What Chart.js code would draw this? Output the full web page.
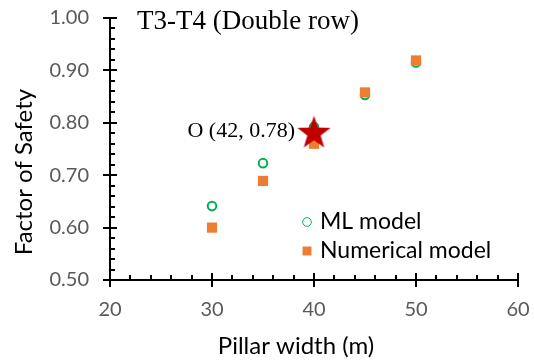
<!DOCTYPE html>
<html>
<head>
<meta charset="utf-8">
<script src="https://cdn.jsdelivr.net/npm/chart.js@4.4.0/dist/chart.umd.min.js"></script>
<style>
  html, body { margin: 0; padding: 0; background: #fff; }
  #wrap { width: 534px; height: 362px; }
</style>
</head>
<body>
<div id="wrap"><canvas id="grafico"></canvas></div>
<script>
// Dados
const larguras = [30, 35, 40, 45, 50];
const modeloML = [0.641, 0.723, 0.792, 0.853, 0.915];
const modeloNumerico = [0.600, 0.689, 0.760, 0.858, 0.919];
const pontoOtimoX = [40];
const pontoOtimoY = [0.78];
const rotuloOtimo = 'O (42, 0.78)';
const titulo = 'T3-T4 (Double row)';
const tituloX = 'Pillar width (m)';
const tituloY = 'Factor of Safety';

// Estrela preenchida usada como pointStyle
function criarEstrela(raio, cor) {
    const c = document.createElement('canvas');
    const lado = Math.ceil(raio * 2 + 2);
    c.width = lado; c.height = lado;
    const g = c.getContext('2d');
    const cx = lado / 2, cy = lado / 2;
    g.beginPath();
    for (let i = 0; i < 10; i++) {
        const r = i % 2 === 0 ? raio : raio * 0.4;
        const a = -Math.PI / 2 + i * Math.PI / 5;
        g.lineTo(cx + r * Math.cos(a), cy + r * Math.sin(a));
    }
    g.closePath();
    g.fillStyle = cor;
    g.fill();
    return c;
}

// Eixos com marcas maiores e menores (estilo Excel)
const eixosPlugin = {
    id: 'eixos',
    beforeDatasetsDraw(chart) {
        const { ctx, chartArea, scales } = chart;
        const x = scales.x, y = scales.y;
        ctx.save();
        ctx.strokeStyle = '#000';
        ctx.lineWidth = 2;
        ctx.beginPath();
        ctx.moveTo(chartArea.left, chartArea.top);
        ctx.lineTo(chartArea.left, chartArea.bottom);
        ctx.moveTo(chartArea.left - 7, chartArea.bottom);
        ctx.lineTo(chartArea.right, chartArea.bottom);
        for (let v = 0.5; v <= 1.0001; v += 0.02) {
            const py = Math.round(y.getPixelForValue(v));
            const major = Math.abs(Math.round(v * 10) - v * 10) < 0.001;
            ctx.moveTo(chartArea.left - (major ? 7 : 0), py);
            ctx.lineTo(chartArea.left + (major ? 7 : 5), py);
        }
        for (let v = 20; v <= 60; v += 2) {
            const px = Math.round(x.getPixelForValue(v));
            const major = v % 10 === 0;
            ctx.moveTo(px, chartArea.bottom + (major ? 7 : 0));
            ctx.lineTo(px, chartArea.bottom - (major ? 7 : 5));
        }
        ctx.stroke();

        // títulos dos eixos (deslocados como no original)
        ctx.fillStyle = '#000';
        ctx.font = '24px Lato';
        ctx.textAlign = 'center';
        ctx.textBaseline = 'middle';
        ctx.fillText(tituloX, 296, 346);
        ctx.save();
        ctx.translate(24, 172);
        ctx.rotate(-Math.PI / 2);
        ctx.fillText(tituloY, 0, 0);
        ctx.restore();
        ctx.restore();
    },
    afterDatasetsDraw(chart) {
        const { ctx, chartArea, scales } = chart;
        ctx.save();
        // título
        ctx.fillStyle = '#000';
        ctx.font = '27px "Liberation Serif"';
        ctx.textAlign = 'left';
        ctx.textBaseline = 'alphabetic';
        ctx.fillText(titulo, chartArea.left + 27, chartArea.top + 11);
        // rótulo do ponto ótimo
        const sx = scales.x.getPixelForValue(pontoOtimoX[0]);
        const sy = scales.y.getPixelForValue(pontoOtimoY[0]);
        ctx.font = '22px "Liberation Serif"';
        ctx.textAlign = 'right';
        ctx.fillText(rotuloOtimo, sx - 19, sy + 4);
        // legenda
        const itens = [chart.data.datasets[2], chart.data.datasets[1]];
        ctx.font = '23px Lato';
        ctx.textAlign = 'left';
        ctx.textBaseline = 'middle';
        itens.forEach((ds, i) => {
            const ly = 222 + i * 29;
            ctx.strokeStyle = ds.borderColor;
            ctx.fillStyle = ds.backgroundColor;
            Chart.helpers.drawPoint(ctx, {
                pointStyle: ds.pointStyle,
                radius: i === 0 ? 4.3 : 6.3,
                borderWidth: ds.borderWidth
            }, 307, ly);
            ctx.fillStyle = '#000';
            ctx.fillText(ds.label, 320, ly);
        });
        ctx.restore();
    }
};

const ctx = document.getElementById('grafico').getContext('2d');
new Chart(ctx, {
    type: 'scatter',
    data: {
        datasets: [
            {
                label: 'Optimum',
                data: pontoOtimoX.map((v, i) => ({ x: v, y: pontoOtimoY[i] })),
                pointStyle: criarEstrela(17.5, '#C00000'),
                backgroundColor: '#C00000',
                borderColor: '#C00000'
            },
            {
                label: 'Numerical model',
                data: larguras.map((v, i) => ({ x: v, y: modeloNumerico[i] })),
                pointStyle: 'rect',
                pointRadius: 7.2,
                backgroundColor: '#ED7D31',
                borderColor: '#ED7D31',
                borderWidth: 0
            },
            {
                label: 'ML model',
                data: larguras.map((v, i) => ({ x: v, y: modeloML[i] })),
                pointStyle: 'circle',
                pointRadius: 4.3,
                backgroundColor: 'rgba(0,0,0,0)',
                borderColor: '#00B050',
                borderWidth: 2
            }
        ]
    },
    options: {
        responsive: true,
        maintainAspectRatio: false,
        animation: false,
        layout: { padding: { top: 18, right: 16, left: 0, bottom: 0 } },
        plugins: {
            legend: { display: false },
            tooltip: { enabled: false }
        },
        scales: {
            x: {
                type: 'linear',
                min: 20, max: 60,
                grid: { display: true, drawOnChartArea: false, drawTicks: true, tickLength: 18, color: 'rgba(0,0,0,0)' },
                border: { display: false },
                ticks: { stepSize: 10, color: '#595959', font: { family: 'Lato', size: 20 }, padding: 0 },
                afterFit(scale) { scale.height = 82; }
            },
            y: {
                min: 0.5, max: 1.0,
                grid: { display: true, drawOnChartArea: false, drawTicks: true, tickLength: 21, color: 'rgba(0,0,0,0)' },
                border: { display: false },
                ticks: {
                    stepSize: 0.1,
                    color: '#595959',
                    font: { family: 'Lato', size: 20 },
                    padding: 0,
                    callback: v => v.toFixed(2)
                },
                afterFit(scale) { scale.width = 110; }
            }
        }
    },
    plugins: [eixosPlugin]
});
</script>
</body>
</html>
